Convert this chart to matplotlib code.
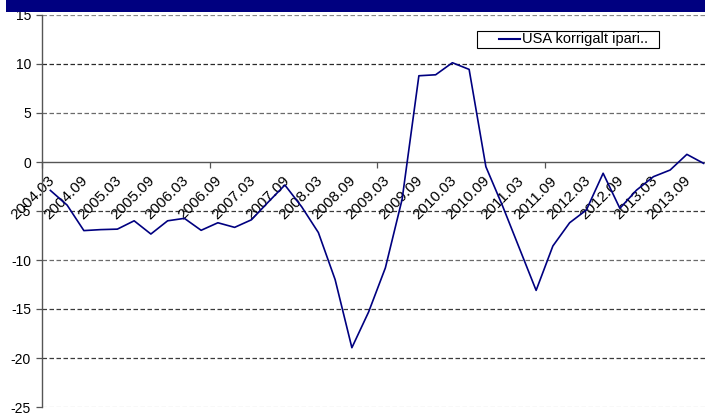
import matplotlib
matplotlib.use("Agg")
import matplotlib.pyplot as plt
from matplotlib.patches import Rectangle
from matplotlib.lines import Line2D
import numpy as np

plt.rcParams['font.family'] = ['Liberation Sans', 'DejaVu Sans']

# quarterly periods 2004.03 ... 2013.12
years = list(range(2004, 2014))
months = ["03", "06", "09", "12"]
periods = [f"{y}.{m}" for y in years for m in months]

values = [-2.9, -4.4, -7.0, -6.9, -6.85, -6.0, -7.35, -6.0, -5.75, -6.97,
          -6.2, -6.67, -5.9, -4.1, -2.35, -4.56, -7.2, -12.0, -18.95, -15.3,
          -10.8, -3.8, 8.8, 8.9, 10.13, 9.45, -0.48, -4.5, -8.8, -13.1,
          -8.57, -6.2, -4.9, -1.15, -4.73, -2.86, -1.5, -0.82, 0.78, -0.14]

series_name = "USA korrigalt ipari.."
y_ticks = [-25, -20, -15, -10, -5, 0, 5, 10, 15]

navy = "#000080"

fig = plt.figure(figsize=(7.05, 4.15), dpi=100)
W, H = 705, 415
left_px, right_px, top_px, bot_px = 42, 712, 15, 407
ax = fig.add_axes([left_px / W, 1 - bot_px / H, (right_px - left_px) / W, (bot_px - top_px) / H])

def fx(px):
    return px / W

def fy(py):
    return 1 - py / H

# top band
fig.patches.append(Rectangle((fx(6), fy(11.7)), 1, 11.7 / H, transform=fig.transFigure,
                             facecolor=navy, edgecolor='none', zorder=0))

n = len(periods)
x = np.arange(n)
ax.plot(x, values, color=navy, lw=1.2, zorder=3)

ax.set_xlim(-0.5, n - 0.5)
ax.set_ylim(-25, 15)

# gridlines
grid_colors = {15: '#8a8a8a', 10: '#2a2a2a', 5: '#6a6a6a', -5: '#3a3a3a',
               -10: '#6a6a6a', -15: '#3a3a3a', -20: '#3a3a3a', -25: '#c8c8c8'}
for yv in y_ticks:
    if yv == 0:
        continue
    ax.axhline(yv, color=grid_colors[yv], lw=0.9, dashes=(3.6, 2.0), zorder=1)

ax.set_yticks(y_ticks)
ax.set_yticklabels([str(v) for v in y_ticks])
ax.tick_params(axis='y', direction='out', length=4, width=0.9, color='#555555',
               labelsize=10, pad=4)

for s in ['top', 'right']:
    ax.spines[s].set_visible(False)
ax.spines['left'].set_color('#555555')
ax.spines['left'].set_linewidth(1.0)
ax.spines['bottom'].set_position(('data', 0))
ax.spines['bottom'].set_color('#555555')
ax.spines['bottom'].set_linewidth(1.0)

# major ticks at category boundaries every 10 quarters
ax.set_xticks(np.arange(-0.5, n, 10))
ax.set_xticklabels([])
ax.tick_params(axis='x', which='major', direction='out', length=4, width=0.9, color='#555555')

# labels every 2 quarters
lab_pos = x[::2]
lab_txt = periods[::2]
ax.set_xticks(lab_pos, minor=True)
ax.set_xticklabels(lab_txt, minor=True, rotation=45, ha='right', va='center',
                   rotation_mode='anchor', fontsize=11)
ax.tick_params(axis='x', which='minor', length=0, pad=12)
for t in ax.get_xticklabels(minor=True):
    t.set_transform(t.get_transform() + matplotlib.transforms.ScaledTranslation(2 / 100, 0, fig.dpi_scale_trans))

# legend box drawn in figure pixel coordinates
fig.patches.append(Rectangle((fx(477), fy(48)), fx(659) - fx(477), (48 - 31) / H,
                             transform=fig.transFigure, facecolor='white',
                             edgecolor='black', lw=0.8, zorder=5))
fig.lines.append(Line2D([fx(499), fx(520)], [fy(39.5), fy(39.5)], transform=fig.transFigure,
                        color=navy, lw=1.5, zorder=6))
fig.text(fx(522), fy(39.5), series_name, ha='left', va='center', fontsize=10.5, zorder=6)

fig.savefig("out.png", dpi=100)
